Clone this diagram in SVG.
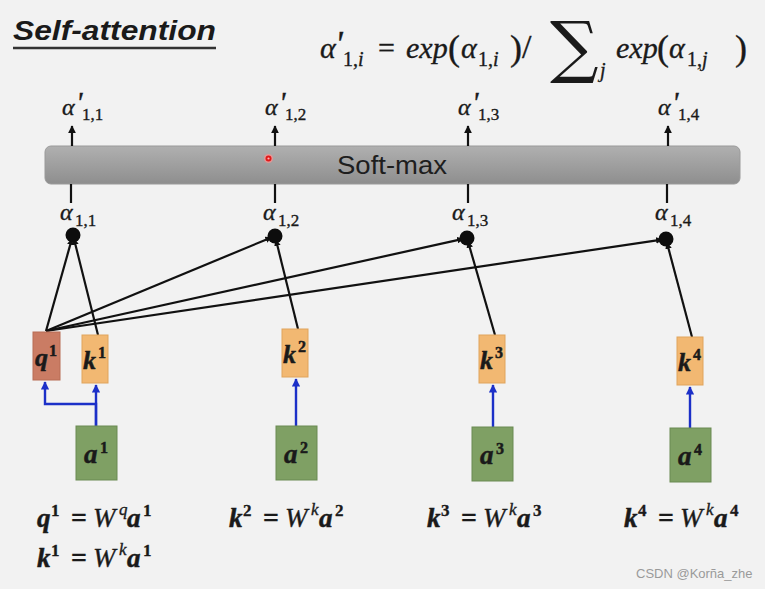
<svg xmlns="http://www.w3.org/2000/svg" width="765" height="589" viewBox="0 0 765 589">
<defs>
<style>
.serif{font-family:"Liberation Serif","DejaVu Serif",serif;fill:#1a1a1a;stroke:#1a1a1a;stroke-width:0.35}
.it{font-style:italic}
.up{font-style:normal}
.bi{font-style:italic;font-weight:bold;stroke-width:0.5}
.bd{font-weight:bold}
.conn{stroke:#111;stroke-width:2.2;fill:none}
.blue{stroke:#1c30c8;stroke-width:2.4;fill:none}
.qbox{fill:#ca7c64;stroke:#b86c54;stroke-width:1}
.kbox{fill:#f2b872;stroke:#e0a45c;stroke-width:1}
.abox{fill:#7fa064;stroke:#6a8a52;stroke-width:1}
</style>
<linearGradient id="barg" x1="0" y1="0" x2="0" y2="1">
<stop offset="0" stop-color="#b0b0b0"/>
<stop offset="1" stop-color="#8e8e8e"/>
</linearGradient>
<marker id="ah" viewBox="0 0 10 10" refX="9" refY="5" markerWidth="3.5" markerHeight="3.5" orient="auto">
<path d="M0,0 L10,5 L0,10 z" fill="#111"/>
</marker>
<marker id="dh" viewBox="0 0 10 10" refX="9" refY="5" markerWidth="3" markerHeight="3" orient="auto">
<path d="M0,0 L10,5 L0,10 z" fill="#111"/>
</marker>
<marker id="bh" viewBox="0 0 10 10" refX="9" refY="5" markerWidth="3.5" markerHeight="3.5" orient="auto">
<path d="M0,0 L10,5 L0,10 z" fill="#1c30c8"/>
</marker>
</defs>
<rect width="765" height="589" fill="#f2f2f2"/>

<g id="title">
<text x="13" y="40" font-family="Liberation Sans, Arial, sans-serif" font-weight="bold" font-style="italic" font-size="28" fill="#1a1a1a" textLength="203" lengthAdjust="spacingAndGlyphs">Self-attention</text>
<line x1="13" y1="48" x2="216" y2="48" stroke="#333" stroke-width="2.5"/>
</g>

<g id="formula" class="serif">
<text x="320" y="58" class="it" font-size="30">α<tspan x="335" y="56" font-size="36">'</tspan><tspan x="343" y="66" font-size="20" class="up">1,</tspan><tspan font-size="20">i</tspan></text>
<text x="378" y="58" font-size="30">=</text>
<text x="406" y="58" class="it" font-size="30">exp</text>
<text x="448" y="60" font-size="36">(</text>
<text x="461" y="58" class="it" font-size="30">α<tspan x="478" y="66" font-size="20" class="up">1,</tspan><tspan font-size="20">i</tspan></text>
<text x="510" y="60" font-size="36">)</text>
<text x="522" y="58" font-size="34">/</text>
<text x="550" y="70" font-family="DejaVu Serif, serif" font-size="68" stroke-width="0">∑</text>
<text x="600" y="77" class="it" font-size="20">j</text>
<text x="616" y="58" class="it" font-size="30">exp</text>
<text x="657" y="60" font-size="36">(</text>
<text x="669" y="58" class="it" font-size="30">α<tspan x="687" y="66" font-size="20" class="up">1,</tspan><tspan font-size="20">j</tspan></text>
<text x="735" y="60" font-size="36">)</text>
</g>

<g id="softmax">
<rect x="45" y="146" width="695" height="38" rx="6" fill="url(#barg)" stroke="#9a9a9a" stroke-width="1"/>
<text x="392" y="174" text-anchor="middle" font-family="Liberation Sans, Arial, sans-serif" font-size="25" fill="#1e1e1e" textLength="110" lengthAdjust="spacingAndGlyphs">Soft-max</text>
<circle cx="268.5" cy="158.5" r="4.5" fill="#ff9090" opacity="0.7"/>
<circle cx="268.5" cy="158.5" r="3" fill="#e01818"/>
<circle cx="268.5" cy="158.5" r="1.1" fill="#ffb0b0"/>
</g>

<g id="out-labels" class="serif">
<text id="out1" x="62" y="115" class="it" font-size="24">α<tspan x="76" y="112" font-size="30">'</tspan><tspan x="82" y="120" font-size="17" class="up">1,1</tspan></text>
<text id="out2" x="265" y="115" class="it" font-size="24">α<tspan x="279" y="112" font-size="30">'</tspan><tspan x="285" y="120" font-size="17" class="up">1,2</tspan></text>
<text id="out3" x="458" y="115" class="it" font-size="24">α<tspan x="472" y="112" font-size="30">'</tspan><tspan x="478" y="120" font-size="17" class="up">1,3</tspan></text>
<text id="out4" x="658" y="115" class="it" font-size="24">α<tspan x="672" y="112" font-size="30">'</tspan><tspan x="678" y="120" font-size="17" class="up">1,4</tspan></text>
</g>

<g id="alpha-labels" class="serif">
<text id="alpha1" x="60" y="220" class="it" font-size="24">α<tspan x="75" y="226" font-size="17" class="up">1,1</tspan></text>
<text id="alpha2" x="263" y="220" class="it" font-size="24">α<tspan x="278" y="226" font-size="17" class="up">1,2</tspan></text>
<text id="alpha3" x="452" y="220" class="it" font-size="24">α<tspan x="467" y="226" font-size="17" class="up">1,3</tspan></text>
<text id="alpha4" x="655" y="220" class="it" font-size="24">α<tspan x="670" y="226" font-size="17" class="up">1,4</tspan></text>
</g>

<g id="connectors">
<line class="conn" x1="72" y1="146" x2="72" y2="126" marker-end="url(#ah)"/>
<line class="conn" x1="275" y1="146" x2="275" y2="126" marker-end="url(#ah)"/>
<line class="conn" x1="468" y1="146" x2="468" y2="126" marker-end="url(#ah)"/>
<line class="conn" x1="668" y1="146" x2="668" y2="126" marker-end="url(#ah)"/>
<line class="conn" x1="71" y1="184" x2="71" y2="203"/>
<line class="conn" x1="275" y1="184" x2="275" y2="203"/>
<line class="conn" x1="468" y1="184" x2="468" y2="203"/>
<line class="conn" x1="667" y1="184" x2="667" y2="203"/>
<line class="conn" x1="46" y1="331" x2="71.9" y2="238.9" marker-end="url(#dh)"/>
<line class="conn" x1="98" y1="335" x2="74" y2="238.9" marker-end="url(#dh)"/>
<line class="conn" x1="46" y1="331" x2="271.3" y2="237.5" marker-end="url(#dh)"/>
<line class="conn" x1="298" y1="329" x2="276" y2="239.9" marker-end="url(#dh)"/>
<line class="conn" x1="46" y1="331" x2="463.1" y2="238.9" marker-end="url(#dh)"/>
<line class="conn" x1="495" y1="335" x2="468.1" y2="241.8" marker-end="url(#dh)"/>
<line class="conn" x1="46" y1="331" x2="662" y2="239.6" marker-end="url(#dh)"/>
<line class="conn" x1="692" y1="337" x2="667" y2="242.9" marker-end="url(#dh)"/>
<polyline class="blue" points="96,426 96,404 45,404 45,382" marker-end="url(#bh)"/>
<line class="blue" x1="96" y1="426" x2="96" y2="385" marker-end="url(#bh)"/>
<line class="blue" x1="296" y1="426" x2="296" y2="379" marker-end="url(#bh)"/>
<line class="blue" x1="493" y1="427" x2="493" y2="385" marker-end="url(#bh)"/>
<line class="blue" x1="690" y1="428" x2="690" y2="387" marker-end="url(#bh)"/>
</g>

<g id="dots" fill="#0d0d0d">
<circle id="dot1" cx="73" cy="235" r="7.5"/>
<circle id="dot2" cx="275" cy="236" r="7.5"/>
<circle id="dot3" cx="467" cy="238" r="7.5"/>
<circle id="dot4" cx="666" cy="239" r="7.5"/>
</g>

<g id="q1" class="serif"><rect class="qbox" x="33" y="332" width="27" height="48"/><text x="35" y="366" class="bi" font-size="26">q<tspan x="49" y="356" class="bd up" font-size="16">1</tspan></text></g>
<g id="k1" class="serif"><rect class="kbox" x="82" y="335" width="26" height="48"/><text x="83" y="369" class="bi" font-size="26">k<tspan x="98" y="358" class="bd up" font-size="16">1</tspan></text></g>
<g id="k2" class="serif"><rect class="kbox" x="282" y="329" width="26" height="48"/><text x="283" y="363" class="bi" font-size="26">k<tspan x="298" y="352" class="bd up" font-size="16">2</tspan></text></g>
<g id="k3" class="serif"><rect class="kbox" x="479" y="335" width="26" height="48"/><text x="480" y="369" class="bi" font-size="26">k<tspan x="495" y="358" class="bd up" font-size="16">3</tspan></text></g>
<g id="k4" class="serif"><rect class="kbox" x="677" y="337" width="26" height="48"/><text x="678" y="371" class="bi" font-size="26">k<tspan x="693" y="360" class="bd up" font-size="16">4</tspan></text></g>

<g id="a1" class="serif"><rect class="abox" x="76" y="426" width="41" height="54"/><text x="84" y="463" class="bi" font-size="27">a<tspan x="100" y="453" class="bd up" font-size="16">1</tspan></text></g>
<g id="a2" class="serif"><rect class="abox" x="276" y="426" width="41" height="54"/><text x="284" y="463" class="bi" font-size="27">a<tspan x="300" y="453" class="bd up" font-size="16">2</tspan></text></g>
<g id="a3" class="serif"><rect class="abox" x="472" y="427" width="41" height="54"/><text x="480" y="464" class="bi" font-size="27">a<tspan x="496" y="454" class="bd up" font-size="16">3</tspan></text></g>
<g id="a4" class="serif"><rect class="abox" x="670" y="428" width="41" height="54"/><text x="678" y="465" class="bi" font-size="27">a<tspan x="694" y="455" class="bd up" font-size="16">4</tspan></text></g>

<g id="equations" class="serif">
<g id="eq-q1"><text x="37" y="527" class="bi" font-size="27">q</text><text x="51" y="516" class="bd" font-size="17">1</text><text x="71" y="527" class="bd" font-size="28">=</text><text x="93" y="527" class="it" font-size="27">W</text><text x="119" y="515" class="it" font-size="17">q</text><text x="127" y="527" class="bi" font-size="27">a</text><text x="143" y="516" class="bd" font-size="17">1</text></g>
<g id="eq-k1"><text x="37" y="567" class="bi" font-size="27">k</text><text x="51" y="556" class="bd" font-size="17">1</text><text x="71" y="567" class="bd" font-size="28">=</text><text x="93" y="567" class="it" font-size="27">W</text><text x="119" y="555" class="it" font-size="17">k</text><text x="127" y="567" class="bi" font-size="27">a</text><text x="143" y="556" class="bd" font-size="17">1</text></g>
<g id="eq-k2"><text x="229" y="527" class="bi" font-size="27">k</text><text x="243" y="516" class="bd" font-size="17">2</text><text x="263" y="527" class="bd" font-size="28">=</text><text x="285" y="527" class="it" font-size="27">W</text><text x="311" y="515" class="it" font-size="17">k</text><text x="319" y="527" class="bi" font-size="27">a</text><text x="335" y="516" class="bd" font-size="17">2</text></g>
<g id="eq-k3"><text x="427" y="527" class="bi" font-size="27">k</text><text x="441" y="516" class="bd" font-size="17">3</text><text x="461" y="527" class="bd" font-size="28">=</text><text x="483" y="527" class="it" font-size="27">W</text><text x="509" y="515" class="it" font-size="17">k</text><text x="517" y="527" class="bi" font-size="27">a</text><text x="533" y="516" class="bd" font-size="17">3</text></g>
<g id="eq-k4"><text x="624" y="527" class="bi" font-size="27">k</text><text x="638" y="516" class="bd" font-size="17">4</text><text x="658" y="527" class="bd" font-size="28">=</text><text x="680" y="527" class="it" font-size="27">W</text><text x="706" y="515" class="it" font-size="17">k</text><text x="714" y="527" class="bi" font-size="27">a</text><text x="730" y="516" class="bd" font-size="17">4</text></g>
</g>

<text x="636" y="578" font-family="Liberation Sans, Arial, sans-serif" font-size="13" fill="#9a9a9a">CSDN @Korña_zhe</text>
</svg>
